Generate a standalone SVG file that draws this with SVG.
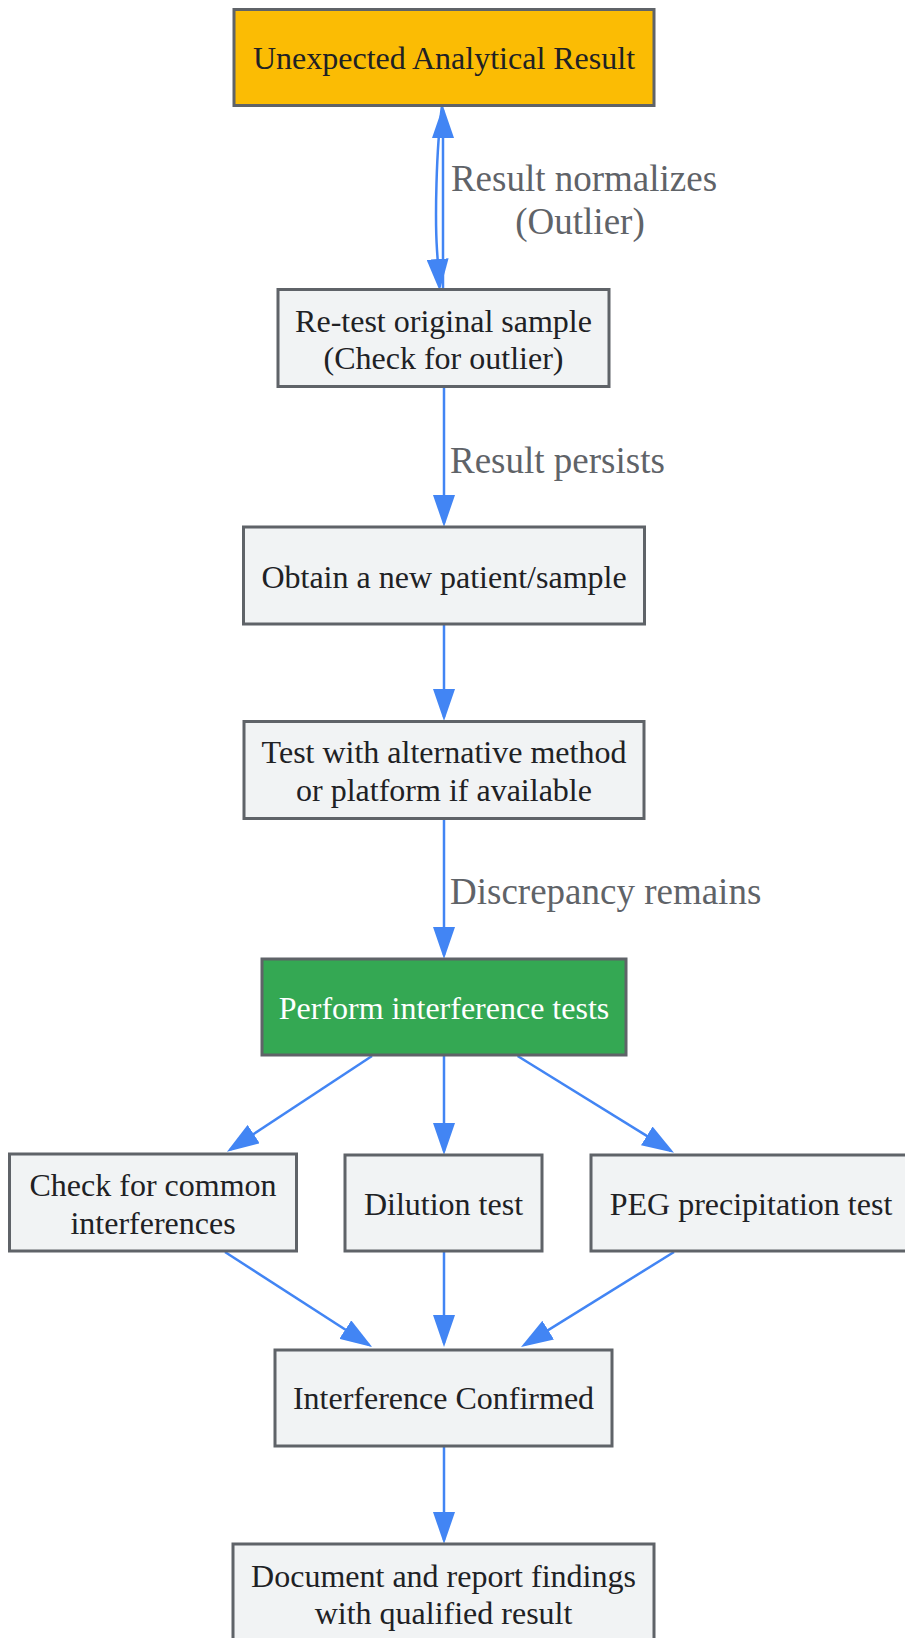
<svg xmlns="http://www.w3.org/2000/svg" width="905" height="1638" viewBox="0 0 905 1638">
<defs>
<marker id="arr" markerUnits="userSpaceOnUse" markerWidth="32" markerHeight="22" refX="28" refY="11" orient="auto" viewBox="0 0 32 22">
<path d="M0,0 L32,11 L0,22 z" fill="#4285F4"/>
</marker>
<style>
.n{fill:#F1F3F4;stroke:#5f6368;stroke-width:3}
.t{font-family:"Liberation Serif","Times New Roman",serif;font-size:32px;fill:#202124;text-anchor:middle;dominant-baseline:central}
.l{font-family:"Liberation Serif","Times New Roman",serif;font-size:37px;fill:#5f6368;dominant-baseline:central}
.e{fill:none;stroke:#4285F4;stroke-width:2.5;marker-end:url(#arr)}
</style>
</defs>
<rect width="905" height="1638" fill="#ffffff"/>
<g id="connectors">
<path class="e" d="M442,106 C436,150 435,220 437,250 L439.5,287"/>
<path class="e" d="M443,289 L443,110"/>
<path class="e" d="M444,387 L444,523"/>
<path class="e" d="M444,624 L444,717"/>
<path class="e" d="M444,819 L444,955"/>
<path class="e" d="M372,1056 L230.3,1149.5"/>
<path class="e" d="M444,1055 L444,1151"/>
<path class="e" d="M517.6,1056 L670.6,1150.6"/>
<path class="e" d="M225,1252 L368.8,1344.8"/>
<path class="e" d="M444,1251 L444,1343"/>
<path class="e" d="M674,1252 L524.4,1344.9"/>
<path class="e" d="M444,1446 L444,1540"/>
</g>
<g id="edge-labels">
<text class="l" x="584" y="178" text-anchor="middle">Result normalizes</text>
<text class="l" x="580" y="221" text-anchor="middle">(Outlier)</text>
<text class="l" x="450" y="460">Result persists</text>
<text class="l" x="450" y="891">Discrepancy remains</text>
</g>
<g id="node-unexpected">
<rect x="234" y="9.5" width="420" height="96" fill="#FBBC04" stroke="#5f6368" stroke-width="3"/>
<text class="t" x="444" y="57.5">Unexpected Analytical Result</text>
</g>
<g id="node-retest">
<rect class="n" x="278" y="289.5" width="331" height="97"/>
<text class="t" x="443.5" y="321">Re-test original sample</text>
<text class="t" x="443.5" y="358">(Check for outlier)</text>
</g>
<g id="node-obtain">
<rect class="n" x="243.5" y="527" width="401" height="97"/>
<text class="t" x="444" y="577">Obtain a new patient/sample</text>
</g>
<g id="node-alt">
<rect class="n" x="244" y="721.5" width="400" height="97"/>
<text class="t" x="444" y="752">Test with alternative method</text>
<text class="t" x="444" y="790">or platform if available</text>
</g>
<g id="node-perform">
<rect x="262" y="959" width="364" height="96" fill="#34A853" stroke="#5f6368" stroke-width="3"/>
<text class="t" x="444" y="1008" style="fill:#ffffff">Perform interference tests</text>
</g>
<g id="node-common">
<rect class="n" x="9.5" y="1154" width="287" height="97"/>
<text class="t" x="153" y="1185">Check for common</text>
<text class="t" x="153" y="1222.5">interferences</text>
</g>
<g id="node-dilution">
<rect class="n" x="345" y="1155" width="197" height="96"/>
<text class="t" x="443.5" y="1204">Dilution test</text>
</g>
<g id="node-peg">
<rect class="n" x="591" y="1155" width="320" height="96"/>
<text class="t" x="751" y="1204">PEG precipitation test</text>
</g>
<g id="node-confirmed">
<rect class="n" x="275" y="1350" width="337" height="96"/>
<text class="t" x="443.5" y="1398">Interference Confirmed</text>
</g>
<g id="node-document">
<rect class="n" x="233" y="1544" width="421" height="97"/>
<text class="t" x="443.5" y="1576">Document and report findings</text>
<text class="t" x="443.5" y="1613">with qualified result</text>
</g>
</svg>
